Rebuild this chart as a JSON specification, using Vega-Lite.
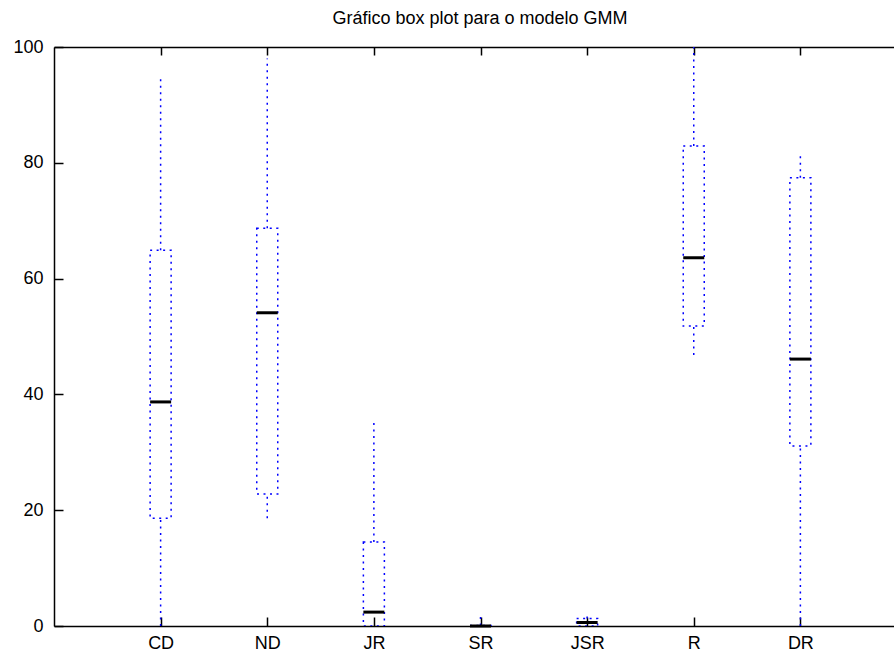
{
  "$schema": "https://vega.github.io/schema/vega-lite/v6.json",
  "width": 840,
  "height": 579,
  "autosize": {"type": "none"},
  "padding": {"left": 54, "top": 47, "right": 0, "bottom": 29},
  "background": "#ffffff",
  "config": {"view": {"stroke": null}, "font": "Liberation Sans"},
  "title": {"text": "Gráfico box plot para o modelo GMM", "fontSize": 18, "fontWeight": "normal", "font": "Liberation Sans", "color": "#000000", "baseline": "alphabetic", "offset": 20, "dy": 24, "dx": 6, "anchor": "middle", "frame": "group"},
  "data": {"values": [
    {"cat": "CD", "lower": 0, "q1": 18.6, "median": 38.7, "q3": 64.9, "upper": 95.2},
    {"cat": "ND", "lower": 18.6, "q1": 22.8, "median": 54.1, "q3": 68.7, "upper": 98},
    {"cat": "JR", "lower": 0, "q1": 0, "median": 2.4, "q3": 14.5, "upper": 35.1},
    {"cat": "SR", "lower": 0, "q1": 0, "median": 0, "q3": 0.1, "upper": 1.6},
    {"cat": "JSR", "lower": 0, "q1": 0, "median": 0.6, "q3": 1.3, "upper": 1.8},
    {"cat": "R", "lower": 46.8, "q1": 51.8, "median": 63.6, "q3": 82.9, "upper": 100},
    {"cat": "DR", "lower": 0, "q1": 31.1, "median": 46.1, "q3": 77.4, "upper": 81.3}
  ]},
  "resolve": {"axis": {"x": "independent"}},
  "layer": [
    {
      "mark": {"type": "rule", "color": "#0000ff", "strokeDash": [2, 4.5], "strokeWidth": 1.5, "clip": true},
      "encoding": {
        "x": {"field": "cat", "type": "ordinal", "sort": null,
              "scale": {"type": "point", "domain": ["CD", "ND", "JR", "SR", "JSR", "R", "DR"], "range": [0, 853], "padding": 1},
              "axis": {"orient": "bottom", "title": null, "domain": true, "labelFontSize": 18, "labelFont": "Liberation Sans", "labelColor": "#000000", "labelAngle": 0, "tickSize": -9, "tickColor": "#000000", "tickWidth": 1.5, "domainColor": "#000000", "domainWidth": 1.5, "labelPadding": 17}},
        "y": {"field": "lower", "type": "quantitative",
              "scale": {"domain": [0, 100], "nice": false},
              "axis": {"title": null, "domain": true, "values": [0, 20, 40, 60, 80, 100], "grid": false, "labelFontSize": 18, "labelFont": "Liberation Sans", "labelColor": "#000000", "tickSize": -9, "tickColor": "#000000", "tickWidth": 1.5, "domainColor": "#000000", "domainWidth": 1.5, "labelPadding": 20}},
        "y2": {"field": "q1"}
      }
    },
    {
      "mark": {"type": "rule", "color": "#0000ff", "strokeDash": [2, 4.5], "strokeWidth": 1.5, "clip": true},
      "encoding": {
        "x": {"field": "cat", "type": "ordinal", "sort": null,
              "axis": {"orient": "top", "title": null, "domain": true, "labels": false, "tickSize": -8, "tickColor": "#000000", "tickWidth": 1.5, "domainColor": "#000000", "domainWidth": 1.5}},
        "y": {"field": "q3", "type": "quantitative"},
        "y2": {"field": "upper"}
      }
    },
    {
      "mark": {"type": "bar", "size": 21, "fill": null, "fillOpacity": 0, "stroke": "#0000ff", "strokeDash": [2, 4.5], "strokeWidth": 1.5, "clip": true},
      "encoding": {
        "x": {"field": "cat", "type": "ordinal", "sort": null, "axis": null},
        "y": {"field": "q1", "type": "quantitative"},
        "y2": {"field": "q3"}
      }
    },
    {
      "mark": {"type": "tick", "color": "#000000", "thickness": 3, "size": 21, "opacity": 1},
      "encoding": {
        "x": {"field": "cat", "type": "ordinal", "sort": null, "axis": null},
        "y": {"field": "median", "type": "quantitative"}
      }
    }
  ]
}
